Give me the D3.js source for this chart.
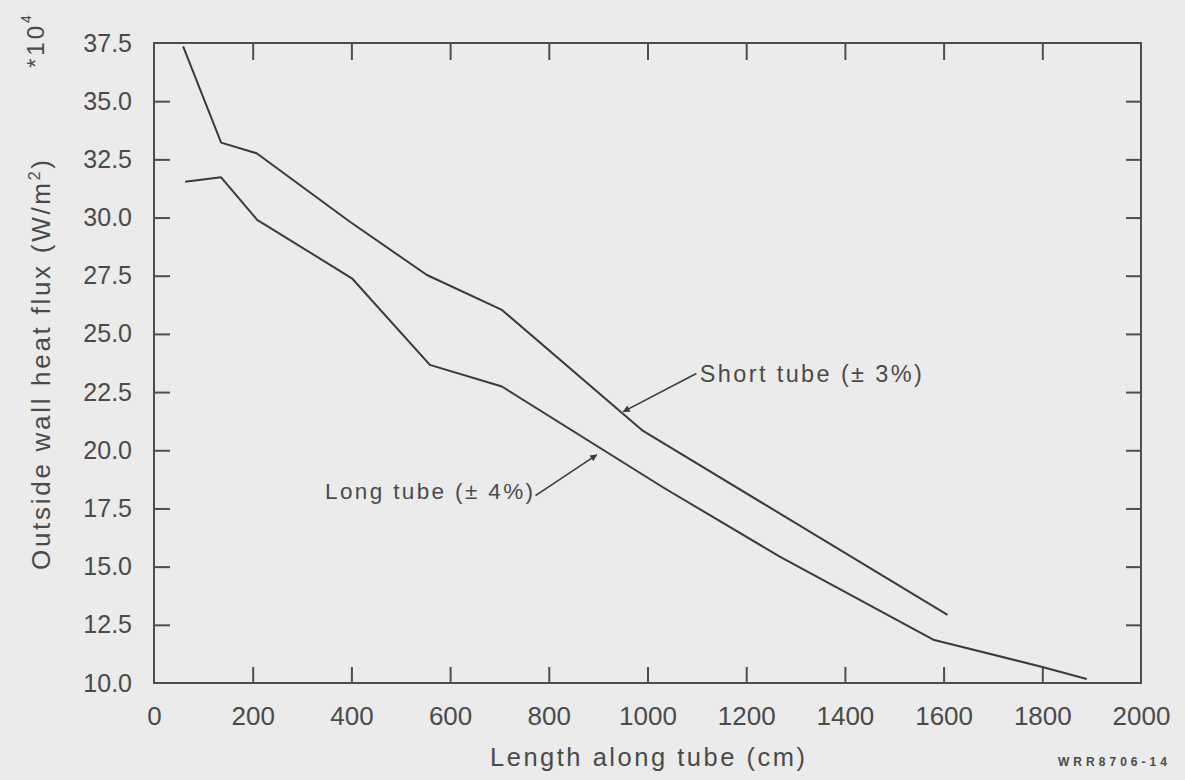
<!DOCTYPE html>
<html>
<head>
<meta charset="utf-8">
<script src="https://cdn.jsdelivr.net/npm/d3@7"></script>
<style>
  html, body { margin: 0; padding: 0; background: #ebebeb; }
  svg { display: block; }
  text { font-family: "Liberation Sans", Arial, sans-serif; fill: #4a4a4a; }
</style>
</head>
<body>
<svg id="chart" width="1185" height="780"></svg>
<script>
// Heat flux along the tube (units of 1e4 W/m^2)
const shortTubeLength = [59, 136, 208, 397, 553, 705, 991, 1608];
const shortTubeFlux   = [37.35, 33.22, 32.76, 29.82, 27.53, 26.03, 20.83, 12.93];

const longTubeLength = [63, 136, 209, 401, 559, 705, 1032, 1268, 1579, 1802, 1890];
const longTubeFlux   = [31.54, 31.73, 29.90, 27.39, 23.67, 22.74, 18.40, 15.43, 11.86, 10.68, 10.17];

const xTickValues = [0, 200, 400, 600, 800, 1000, 1200, 1400, 1600, 1800, 2000];
const yTickValues = [10, 12.5, 15, 17.5, 20, 22.5, 25, 27.5, 30, 32.5, 35, 37.5];

const seriesLabels = ["Short tube (\u00b1 3%)", "Long tube (\u00b1 4%)"];
// label anchor, arrow start and arrow tip, all in data units [cm, flux]
const shortTubeNote = { text: [1106, 22.95], from: [1099, 23.3], to: [951, 21.66] };
const longTubeNote  = { text: [768, 17.9],  from: [773, 18.05], to: [897, 19.80] };

const svg = d3.select("#chart");
const margin = { left: 154, right: 44, top: 43, bottom: 97 };
const W = 1185, H = 780;

const x = d3.scaleLinear().domain([0, 2000]).range([margin.left, W - margin.right]);
const y = d3.scaleLinear().domain([10, 37.5]).range([H - margin.bottom, margin.top]);

const ink = "#3a3a3a";
const frameInk = "#4d4d4d";

// arrowhead
svg.append("defs").append("marker")
  .attr("id", "head")
  .attr("viewBox", "0 0 10 10")
  .attr("refX", 9).attr("refY", 5)
  .attr("markerWidth", 11).attr("markerHeight", 7)
  .attr("markerUnits", "userSpaceOnUse")
  .attr("orient", "auto")
  .append("path").attr("d", "M0,0 L10,5 L0,10 Z").attr("fill", ink);

// axes with inward ticks on all four sides
function styleAxis(g) {
  g.selectAll(".tick line").attr("stroke", frameInk).attr("stroke-width", 2);
  g.selectAll(".domain").remove();
  g.selectAll("text").attr("fill", "#4a4a4a").attr("font-family", "Liberation Sans, Arial, sans-serif");
}

svg.append("g")
  .attr("transform", `translate(0,${y(10)})`)
  .call(d3.axisBottom(x).tickValues(xTickValues).tickSizeInner(-16).tickSizeOuter(0).tickPadding(23.5)
    .tickFormat(d3.format("d")))
  .call(styleAxis)
  .selectAll("text").attr("font-size", 26);

svg.append("g")
  .attr("transform", `translate(0,${y(37.5)})`)
  .call(d3.axisTop(x).tickValues(xTickValues.slice(1, -1)).tickSizeInner(-17).tickSizeOuter(0).tickFormat(""))
  .call(styleAxis);

svg.append("g")
  .attr("transform", `translate(${x(0)},0)`)
  .call(d3.axisLeft(y).tickValues(yTickValues).tickSizeInner(-16).tickSizeOuter(0).tickPadding(22)
    .tickFormat(d3.format(".1f")))
  .call(styleAxis)
  .selectAll("text").attr("font-size", 25);

svg.append("g")
  .attr("transform", `translate(${x(2000)},0)`)
  .call(d3.axisRight(y).tickValues(yTickValues.slice(1, -1)).tickSizeInner(-15).tickSizeOuter(0).tickFormat(""))
  .call(styleAxis);

// hide tick marks sitting on the frame corners
svg.selectAll(".tick").filter(d => d === 0 || d === 2000 || d === 10 || d === 37.5)
  .select("line").attr("stroke-opacity", 0);

// frame
svg.append("rect")
  .attr("x", x(0)).attr("y", y(37.5))
  .attr("width", x(2000) - x(0)).attr("height", y(10) - y(37.5))
  .attr("fill", "none").attr("stroke", frameInk).attr("stroke-width", 2);

// curves
const line = d3.line().x(d => x(d[0])).y(d => y(d[1]));
const shortTube = d3.zip(shortTubeLength, shortTubeFlux);
const longTube = d3.zip(longTubeLength, longTubeFlux);

svg.append("path").datum(shortTube).attr("d", line)
  .attr("fill", "none").attr("stroke", ink).attr("stroke-width", 2).attr("stroke-linejoin", "round");
svg.append("path").datum(longTube).attr("d", line)
  .attr("fill", "none").attr("stroke", ink).attr("stroke-width", 2).attr("stroke-linejoin", "round");

// callouts
function callout(note, label, anchor, size, len) {
  svg.append("line")
    .attr("x1", x(note.from[0])).attr("y1", y(note.from[1]))
    .attr("x2", x(note.to[0])).attr("y2", y(note.to[1]))
    .attr("stroke", ink).attr("stroke-width", 1.6)
    .attr("marker-end", "url(#head)");
  svg.append("text")
    .attr("x", x(note.text[0])).attr("y", y(note.text[1]))
    .attr("text-anchor", anchor)
    .attr("font-size", size)
    .attr("textLength", len).attr("lengthAdjust", "spacing")
    .text(label);
}
callout(shortTubeNote, seriesLabels[0], "start", 23.5, 222);
callout(longTubeNote, seriesLabels[1], "end", 22.5, 208);

// axis titles
svg.append("text")
  .attr("x", (x(0) + x(2000)) / 2 + 0).attr("y", 766)
  .attr("text-anchor", "middle")
  .attr("font-size", 25.5)
  .attr("textLength", 315).attr("lengthAdjust", "spacing")
  .text("Length along tube (cm)");

const yTitle = svg.append("text")
  .attr("transform", "translate(50,365) rotate(-90)")
  .attr("text-anchor", "middle")
  .attr("font-size", 26)
  .attr("textLength", 410).attr("lengthAdjust", "spacing");
yTitle.append("tspan").text("Outside wall heat flux (W/m");
yTitle.append("tspan").attr("font-size", 16).attr("dy", -10).text("2");
yTitle.append("tspan").attr("dy", 10).text(")");

const mult = svg.append("text")
  .attr("transform", "translate(44,68) rotate(-90)")
  .attr("text-anchor", "start")
  .attr("font-size", 24)
  .attr("letter-spacing", 3);
mult.append("tspan").text("*10");
mult.append("tspan").attr("font-size", 14).attr("dy", -13).text("4");

// figure id
svg.append("text")
  .attr("x", 1058).attr("y", 766)
  .attr("font-size", 12).attr("font-weight", "bold")
  .attr("textLength", 109).attr("lengthAdjust", "spacing")
  .attr("fill", "#333")
  .text("WRR8706-14");
</script>
</body>
</html>
